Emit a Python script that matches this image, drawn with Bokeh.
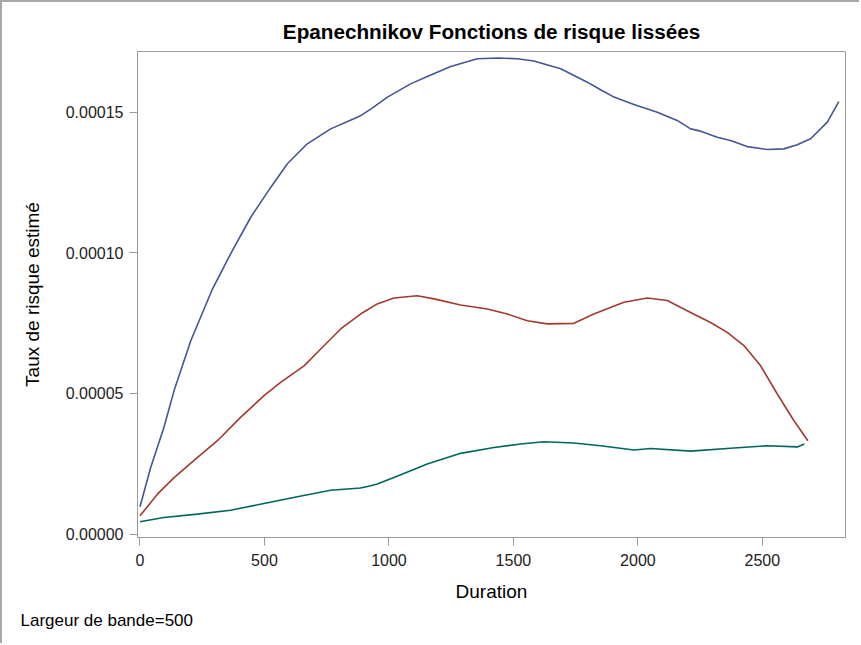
from bokeh.plotting import figure
from bokeh.models import Range1d, PrintfTickFormatter, FixedTicker, Title
from bokeh.embed import file_html
from bokeh.resources import INLINE

# --- data ---
blue_dur = [0, 43, 96, 137, 204, 291, 364, 445, 525, 592, 672, 766, 859, 886, 927, 994, 1087,
            1154, 1248, 1355, 1440, 1516, 1582, 1690, 1797, 1850, 1904, 1984, 2078, 2158, 2212,
            2252, 2319, 2372, 2439, 2520, 2586, 2640, 2694, 2761, 2807]
blue_haz = [9.7e-6, 2.37e-5, 3.79e-5, 5.10e-5, 6.87e-5, 8.71e-5, 9.96e-5, 1.126e-4, 1.232e-4,
            1.316e-4, 1.387e-4, 1.440e-4, 1.476e-4, 1.487e-4, 1.510e-4, 1.553e-4, 1.600e-4,
            1.626e-4, 1.662e-4, 1.689e-4, 1.692e-4, 1.689e-4, 1.681e-4, 1.654e-4, 1.606e-4,
            1.579e-4, 1.553e-4, 1.527e-4, 1.499e-4, 1.470e-4, 1.440e-4, 1.432e-4, 1.410e-4,
            1.399e-4, 1.377e-4, 1.367e-4, 1.369e-4, 1.384e-4, 1.405e-4, 1.464e-4, 1.537e-4]

red_dur = [0, 70, 137, 230, 311, 404, 498, 565, 659, 726, 806, 886, 953, 1020, 1114, 1181, 1288,
           1395, 1476, 1556, 1636, 1743, 1823, 1944, 2038, 2118, 2198, 2292, 2359, 2426, 2493,
           2560, 2627, 2683]
red_haz = [6.5e-6, 1.42e-5, 2.01e-5, 2.72e-5, 3.32e-5, 4.15e-5, 4.92e-5, 5.39e-5, 5.98e-5,
           6.58e-5, 7.29e-5, 7.82e-5, 8.18e-5, 8.39e-5, 8.47e-5, 8.36e-5, 8.14e-5, 8.00e-5,
           7.82e-5, 7.58e-5, 7.47e-5, 7.49e-5, 7.82e-5, 8.24e-5, 8.39e-5, 8.30e-5, 7.94e-5,
           7.52e-5, 7.17e-5, 6.70e-5, 5.98e-5, 4.98e-5, 4.03e-5, 3.32e-5]

teal_dur = [0, 96, 230, 364, 498, 632, 766, 886, 927, 953, 1020, 1154, 1288, 1422, 1529, 1622,
            1743, 1850, 1984, 2051, 2212, 2386, 2520, 2640, 2669]
teal_haz = [4.4e-6, 5.9e-6, 7.1e-6, 8.5e-6, 1.09e-5, 1.33e-5, 1.56e-5, 1.64e-5, 1.72e-5, 1.78e-5,
            2.01e-5, 2.49e-5, 2.87e-5, 3.08e-5, 3.20e-5, 3.28e-5, 3.24e-5, 3.14e-5, 2.99e-5,
            3.04e-5, 2.95e-5, 3.06e-5, 3.14e-5, 3.10e-5, 3.20e-5]

x_ticks = [0, 500, 1000, 1500, 2000, 2500]
y_ticks = [0.0, 0.00005, 0.00010, 0.00015]

FONT = "Liberation Sans"
GRAY = "#9a9a9a"

p = figure(width=859, height=643, output_backend="svg", toolbar_location=None,
           x_range=Range1d(-10, 2834), y_range=Range1d(-1.2e-6, 1.715e-4),
           min_border_left=135, min_border_right=16, min_border_top=49, min_border_bottom=108)
p.styles = {"border-top": "2px solid #a8a8a8", "border-left": "2px solid #a8a8a8"}

p.title.text = "Epanechnikov Fonctions de risque lissées"
p.title.align = "center"
p.title.text_font = FONT
p.title.text_font_size = "20.7px"
p.title.text_font_style = "bold"
p.title.text_color = "#000000"
p.title.standoff = 17

p.line(blue_dur, blue_haz, line_color="#445694", line_width=1.6)
p.line(red_dur, red_haz, line_color="#A23A2E", line_width=1.6)
p.line(teal_dur, teal_haz, line_color="#01665E", line_width=1.6)

p.xgrid.visible = False
p.ygrid.visible = False
p.outline_line_color = GRAY
p.outline_line_width = 1

for ax in (p.xaxis[0], p.yaxis[0]):
    ax.axis_line_color = GRAY
    ax.major_tick_line_color = GRAY
    ax.major_tick_out = 8
    ax.major_tick_in = 0
    ax.minor_tick_line_color = None
    ax.major_label_text_font = FONT
    ax.major_label_text_font_size = "16px"
    ax.major_label_text_color = "#222222"
    ax.axis_label_text_font = FONT
    ax.axis_label_text_font_size = "19px"
    ax.axis_label_text_font_style = "normal"
    ax.axis_label_text_color = "#000000"

p.xaxis.ticker = FixedTicker(ticks=x_ticks)
p.yaxis.ticker = FixedTicker(ticks=y_ticks)
p.yaxis.formatter = PrintfTickFormatter(format="%.5f")
p.xaxis.axis_label = "Duration"
p.yaxis.axis_label = "Taux de risque estimé"
p.xaxis.major_label_standoff = 8
p.xaxis.axis_label_standoff = 12
p.yaxis.major_label_standoff = 6
p.yaxis.axis_label_standoff = 20

foot = Title(text="Largeur de bande=500", align="left", offset=-117,
             text_font=FONT, text_font_size="17px", text_font_style="normal",
             text_color="#000000", standoff=8)
p.add_layout(foot, "below")

open("out.html", "w").write(file_html(p, INLINE))
